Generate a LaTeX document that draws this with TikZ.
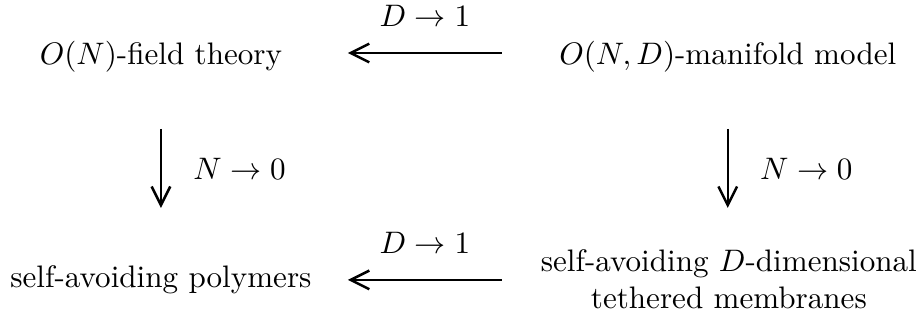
\documentclass[tikz,border=0pt]{standalone}
\usepackage{amsmath,amssymb}
\usepackage{tikz}
\usetikzlibrary{arrows.meta, positioning, calc}

\begin{document}
\begin{tikzpicture}[
    term/.style={align=center, inner sep=2pt},
    limit/.style={inner sep=1pt},
    arrow/.style={-{Straight Barb[length=6pt, width=6pt]}, line width=0.8pt}
]
\useasboundingbox (0,0) rectangle (10.41,3.616);

% Models
\node[term] (field) at (1.819,2.978) {$O(N)$-field theory};
\node[term] (manifold) at (8.226,2.978) {$O(N,D)$-manifold model};
\node[term] (polymers) at (1.819,0.452) {self-avoiding polymers};
\node[term] (membranes) at (8.238,0.463) {self-avoiding $D$-dimensional\\tethered membranes};

% Arrow ends
\coordinate (topR) at (5.673,3.017);
\coordinate (topL) at (3.932,3.017);
\coordinate (botR) at (5.673,0.452);
\coordinate (botL) at (3.932,0.452);
\coordinate (leftT) at (1.819,2.158);
\coordinate (leftB) at (1.819,1.266);
\coordinate (rightT) at (8.226,2.158);
\coordinate (rightB) at (8.226,1.266);

% Limits
\draw[arrow] (topR) -- node[limit, above=7pt] (dtop) {$D\to 1$} (topL);
\draw[arrow] (botR) -- node[limit, above=7pt] (dbot) {$D\to 1$} (botL);
\draw[arrow] (leftT) -- node[limit, right=9pt] (nleft) {$N\to 0$} (leftB);
\draw[arrow] (rightT) -- node[limit, right=9pt] (nright) {$N\to 0$} (rightB);

\end{tikzpicture}
\end{document}
